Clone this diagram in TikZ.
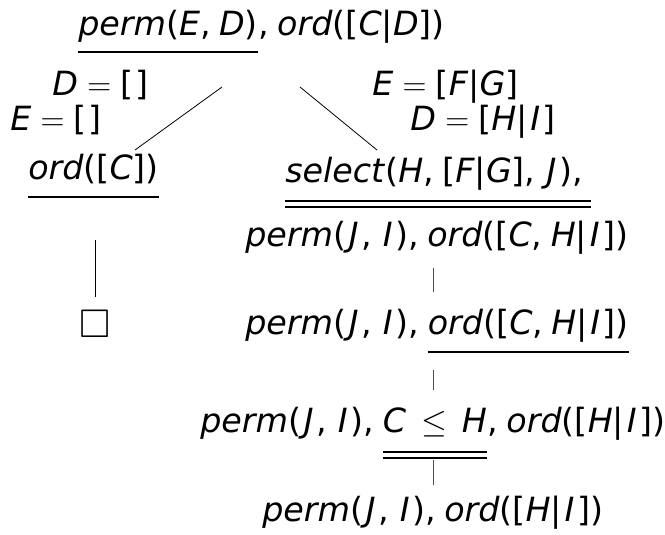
\documentclass[tikz,border=0pt]{standalone}
\usepackage{fontspec}
\usepackage{amssymb}
\setmainfont{DejaVu Sans}
\newcommand\iv[1]{\textit{#1}}
\newcommand\ivs[1]{\kern0.08em\textit{#1}\kern0.08em}
\newcommand\eqs{\kern0.28em$=$\kern0.28em}
\newcommand\cm{,\kern0.25em}
\tikzset{
  x=0.75pt, y=-0.75pt,
  term/.style={inner sep=0pt, anchor=base west, font=\fontsize{25}{30}\selectfont},
  ulin/.style={line width=1.3pt},
  edge/.style={line width=0.6pt},
  tick/.style={line width=0.5pt, black!70},
}
\begin{document}
\begin{tikzpicture}
\useasboundingbox (0,0) rectangle (665,535);
% top goal
\node[term] (t1a) at (78,36) {\iv{perm}(\iv{E}\cm\iv{D})};
\node[term] (t1b) at (t1a.base east) {\cm\iv{ord}([\iv{C}|\iv{D}])};
\draw[ulin] (t1a.base west) ++(0,16) coordinate (u1a) -- (u1a -| t1a.east);
% edge labels
\node[term] (lD) at (52,96) {\iv{D}\eqs[\kern0.05em]};
\node[term] (lE) at (10,131) {\iv{E}\eqs[\kern0.05em]};
\node[term] (rE) at (372,96) {\iv{E}\eqs[\iv{F}|\iv{G}]};
\node[term] (rD) at (410,131) {\iv{D}\eqs[\iv{H}|\ivs{I}]};
% left branch
\node[term] (l2) at (28,180) {\iv{ord}([\iv{C}])};
\draw[ulin] (l2.base west) ++(0,17) coordinate (u2a) -- (u2a -| l2.east);
\node[term] (box) at (79,337) {\fontsize{30}{30}\selectfont$\square$};
% right branch
\node[term] (r2a) at (285,182) {\iv{select}(\iv{H}\cm[\iv{F}|\iv{G}]\cm\ivs{J})\cm};
\draw[ulin] (r2a.base west) ++(0,19) coordinate (u3a) -- (u3a -| r2a.east);
\draw[ulin] (r2a.base west) ++(0,25) coordinate (u3b) -- (u3b -| r2a.east);
\node[term] (r2b) at (245,246) {\iv{perm}(\ivs{J}\cm\ivs{I})\cm\iv{ord}([\iv{C}\cm\iv{H}|\ivs{I}])};
\node[term] (r3a) at (245,334) {\iv{perm}(\ivs{J}\cm\ivs{I})\cm};
\node[term] (r3b) at (r3a.base east) {\iv{ord}([\iv{C}\cm\iv{H}|\ivs{I}])};
\draw[ulin] (r3b.base west) ++(0,18) coordinate (u4a) -- (u4a -| r3b.east);
\node[term] (r4a) at (200,432) {\iv{perm}(\ivs{J}\cm\ivs{I})\cm};
\node[term] (r4b) at (r4a.base east) {\iv{C}\kern0.45em$\leq$\kern0.45em\iv{H}};
\node[term] (r4c) at (r4b.base east) {\cm\iv{ord}([\iv{H}|\ivs{I}])};
\draw[ulin] (r4b.base west) ++(0,20) coordinate (u5a) -- (u5a -| r4b.east);
\draw[ulin] (r4b.base west) ++(0,26) coordinate (u5b) -- (u5b -| r4b.east);
\node[term] (r5) at (262,521) {\iv{perm}(\ivs{J}\cm\ivs{I})\cm\iv{ord}([\iv{H}|\ivs{I}])};
% connectors
\coordinate (a1) at (222,87); \coordinate (a2) at (135,150);
\coordinate (b1) at (300,87); \coordinate (b2) at (377,150);
\draw[edge] (a1) -- (a2);
\draw[edge] (b1) -- (b2);
\coordinate (c1) at (95,240); \coordinate (c2) at (95,297);
\draw[edge] (c1) -- (c2);
\coordinate (k1) at (433,268); \coordinate (k2) at (433,292);
\coordinate (k3) at (433,370); \coordinate (k4) at (433,390);
\coordinate (k5) at (433,460); \coordinate (k6) at (433,485);
\draw[tick] (k1) -- (k2);
\draw[tick] (k3) -- (k4);
\draw[tick] (k5) -- (k6);
\end{tikzpicture}
\end{document}
